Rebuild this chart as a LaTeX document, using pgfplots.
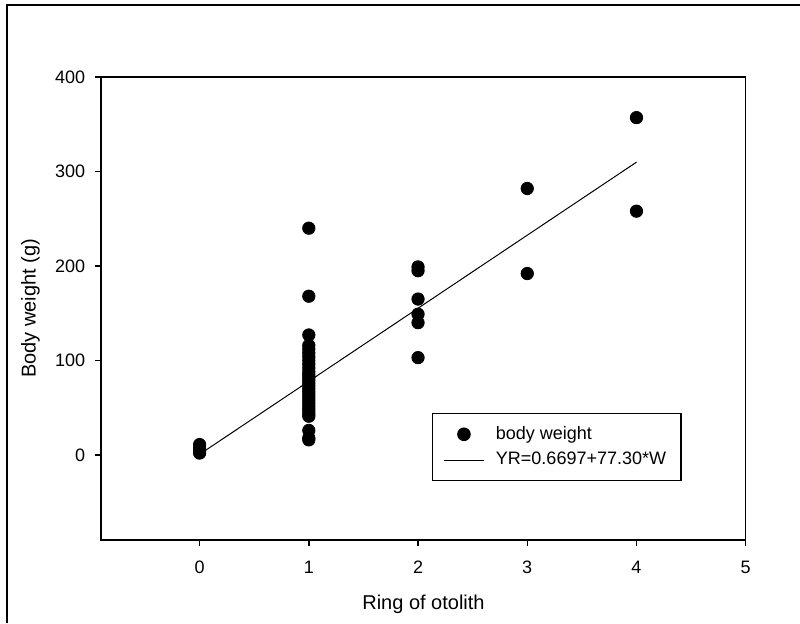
\documentclass[border=0pt]{standalone}
\usepackage{fontspec}
\setmainfont{Liberation Sans}
\usepackage{pgfplots}
\pgfplotsset{compat=1.18}
\begin{document}
\begin{tikzpicture}
\useasboundingbox (0pt,0pt) rectangle (400pt,311.5pt);
\draw[line width=1pt] (3.5pt,0pt) -- (3.5pt,309pt) -- (400pt,309pt);
\begin{axis}[
  at={(50.65pt,41.5pt)}, anchor=south west,
  scale only axis, width=322.2pt, height=231.5pt,
  xmin=-0.9, xmax=5, ymin=-90, ymax=400,
  xtick={0,1,2,3,4,5}, ytick={0,100,200,300,400},
  tick align=outside, tick pos=left, major tick length=3pt,
  axis line style={line width=0.8pt}, tick style={line width=0.7pt, black},
  /pgf/number format/assume math mode=true,
  tick label style={font=\fontsize{9}{10}\selectfont},
  xticklabel style={yshift=-4pt},
  yticklabel style={xshift=-1.5pt},
  xlabel={Ring of otolith}, ylabel={Body weight (g)},
  label style={font=\fontsize{11}{12}\selectfont},
  every axis x label/.style={at={(axis description cs:0.5,-0.14)}, anchor=center},
  every axis y label/.style={at={(axis description cs:-0.11,0.5)}, anchor=center, rotate=90},
  legend style={at={(axis description cs:0.513,0.275)}, anchor=north west,
    draw=black, line width=0.6pt, font=\fontsize{9}{10.5}\selectfont,
    inner xsep=5.5pt, inner ysep=4.5pt, row sep=1pt, legend cell align=left},
]
\addplot[only marks, mark=*, mark size=3.1pt, black,
  legend image code/.code={\fill[black] (10pt,0pt) circle (3.1pt); \path[draw=none] (0pt,0pt) -- (24pt,0pt);}]
  coordinates {
  (0,2) (0,4) (0,7) (0,11)
  (1,240) (1,168) (1,127) (1,116) (1,112) (1,108) (1,104) (1,100) (1,96) (1,92)
  (1,88) (1,85) (1,82) (1,79) (1,76) (1,73) (1,70) (1,67) (1,64) (1,61) (1,58)
  (1,55) (1,52) (1,49) (1,46) (1,43) (1,41) (1,26) (1,18) (1,16)
  (2,199) (2,195) (2,165) (2,149) (2,140) (2,103)
  (3,282) (3,192)
  (4,357) (4,258)
  };
\addlegendentry{body weight}
\addplot[black, line width=0.5pt,
  legend image code/.code={\draw[black, line width=0.5pt] (0pt,0pt) -- (20pt,0pt); \path[draw=none] (24pt,0pt);}]
  coordinates {(0,0.6697) (4,309.8697)};
\addlegendentry{YR=0.6697+77.30*W}
\end{axis}
\end{tikzpicture}
\end{document}
